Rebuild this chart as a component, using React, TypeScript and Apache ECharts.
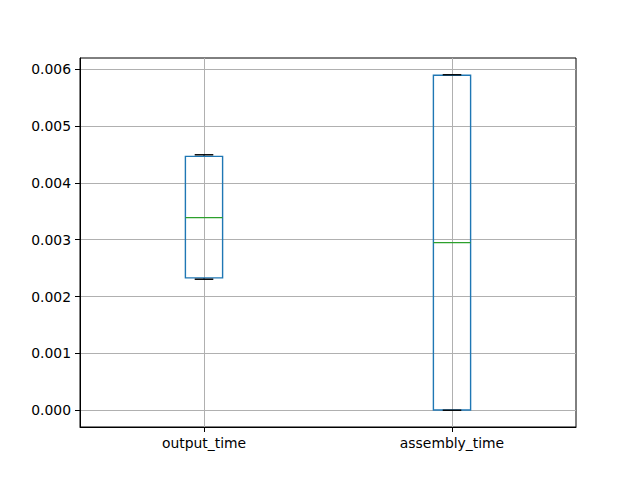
import React, { useEffect, useRef } from "react";
import * as echarts from "echarts";

const categories = ["output_time", "assembly_time"];
const positions = [1, 2];
const whiskerLow = [0.002304, 0.0];
const q1 = [0.002327, 0.000003];
const medians = [0.003387, 0.002948];
const q3 = [0.004464, 0.005892];
const whiskerHigh = [0.004493, 0.0059];
const yTicks = [0, 0.001, 0.002, 0.003, 0.004, 0.005, 0.006];

const FONT = "DejaVu Sans";

export default function App() {
  const ref = useRef<HTMLDivElement>(null);
  useEffect(() => {
    if (!ref.current) return;
    const chart = echarts.init(ref.current, undefined, { renderer: "svg" });
    const data = positions.map((p, i) => [p, whiskerLow[i], q1[i], medians[i], q3[i], whiskerHigh[i]]);
    const halfBox = 0.075;
    const halfCap = 0.0375;
    const option: any = {
      animation: false,
      backgroundColor: "#ffffff",
      grid: {
        left: 80,
        right: 64,
        top: 58,
        bottom: 53,
        show: true,
        borderColor: "#000000",
        borderWidth: 1,
        backgroundColor: "transparent",
      },
      xAxis: {
        type: "value",
        min: 0.5,
        max: 2.5,
        axisLine: { show: true, onZero: false, lineStyle: { color: "#000", width: 1 } },
        axisTick: { show: true, length: 5, customValues: positions, lineStyle: { color: "#000" } },
        axisLabel: {
          show: true,
          customValues: positions,
          margin: 9,
          color: "#000",
          fontFamily: FONT,
          fontSize: 13.9,
          formatter: (v: number) => categories[positions.indexOf(v)] ?? "",
        },
        splitLine: { show: true, lineStyle: { color: "#b0b0b0", width: 1 } },
      },
      yAxis: {
        type: "value",
        min: -0.000295,
        max: 0.006195,
        axisLine: { show: true, onZero: false, lineStyle: { color: "#000", width: 1 } },
        axisTick: { show: true, length: 5, customValues: yTicks, lineStyle: { color: "#000" } },
        axisLabel: {
          show: true,
          customValues: yTicks,
          margin: 9,
          color: "#000",
          fontFamily: FONT,
          fontSize: 13.9,
          formatter: (v: number) => v.toFixed(3),
        },
        splitLine: { show: true, lineStyle: { color: "#b0b0b0", width: 1 } },
      },
      series: [
        {
          type: "custom",
          data,
          encode: { x: 0, y: [1, 2, 3, 4, 5] },
          clip: false,
          renderItem: (params: any, api: any) => {
            const x = api.value(0);
            const lo = api.value(1);
            const b1 = api.value(2);
            const med = api.value(3);
            const b3 = api.value(4);
            const hi = api.value(5);
            const tl = api.coord([x - halfBox, b3]);
            const br = api.coord([x + halfBox, b1]);
            const line = (a: number[], b: number[], color: string) => ({
              type: "line",
              shape: { x1: a[0], y1: a[1], x2: b[0], y2: b[1] },
              style: { stroke: color, lineWidth: 1.4 },
            });
            return {
              type: "group",
              children: [
                {
                  type: "rect",
                  shape: { x: tl[0], y: tl[1], width: br[0] - tl[0], height: br[1] - tl[1] },
                  style: { fill: "none", stroke: "#1f77b4", lineWidth: 1.4 },
                },
                line(api.coord([x, b3]), api.coord([x, hi]), "#1f77b4"),
                line(api.coord([x, b1]), api.coord([x, lo]), "#1f77b4"),
                line(api.coord([x - halfCap, hi]), api.coord([x + halfCap, hi]), "#000000"),
                line(api.coord([x - halfCap, lo]), api.coord([x + halfCap, lo]), "#000000"),
                line(api.coord([x - halfBox, med]), api.coord([x + halfBox, med]), "#2ca02c"),
              ],
            };
          },
        },
      ],
    };
    chart.setOption(option);
    return () => chart.dispose();
  }, []);
  return (
    <div
      ref={ref}
      style={{ position: "fixed", left: 0, top: 0, width: 640, height: 480 }}
    />
  );
}
